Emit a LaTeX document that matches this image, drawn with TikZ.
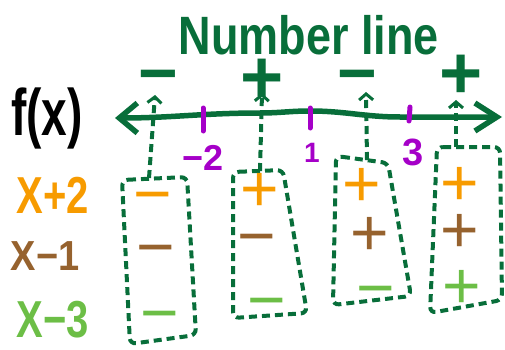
\documentclass[tikz,border=0pt]{standalone}
\usepackage{fontspec}
\setmainfont{Liberation Sans}
\usetikzlibrary{arrows.meta}
\definecolor{lineGreen}{RGB}{8,110,58}
\definecolor{signOrange}{RGB}{247,155,0}
\definecolor{signBrown}{RGB}{150,98,46}
\definecolor{signLime}{RGB}{108,190,70}
\definecolor{tickPurple}{RGB}{165,0,200}

\begin{document}
\begin{tikzpicture}[x=1pt,y=-1pt,
  lbl/.style={inner sep=0pt, anchor=center, yscale=1.3, font=\bfseries\fontsize{40}{40}\selectfont},
  % signs sit on their baseline, lowered so the glyph is centred on the point
  sgn/.style={inner sep=0pt, anchor=base, yshift=-23.1pt, font=\fontsize{66}{66}\selectfont},
  bigplus/.style={inner sep=0pt, anchor=base, yshift=-25.9pt, font=\bfseries\fontsize{74}{74}\selectfont, text=lineGreen},
  bigminus/.style={inner sep=0pt, anchor=base, yshift=-23.8pt, font=\bfseries\fontsize{68}{68}\selectfont, text=lineGreen},
  numlbl/.style={inner sep=0pt, text=tickPurple},
  box/.style={draw=lineGreen, line width=4pt, dash pattern=on 8pt off 5pt, rounded corners=6pt},
  probe/.style={draw=lineGreen, line width=4pt, dash pattern=on 8pt off 5pt,
    -{Straight Barb[length=6pt,width=14pt,line width=3pt]}},
  tick/.style={draw=tickPurple, line width=5pt, line cap=round},
]
\useasboundingbox (0,0) rectangle (505,350);

% title
\node[inner sep=0pt, text=lineGreen, yscale=1.2, font=\bfseries\fontsize{45}{45}\selectfont] (title) at (309,35) {Number line};

% signs of f(x) on each interval
\node[bigminus] (s1) at (158,73) {−};
\node[bigplus] (s2) at (262,77) {+};
\node[bigminus] (s3) at (357,73) {−};
\node[bigplus] (s4) at (461,73) {+};

% the number line
\node[inner sep=0pt, yscale=1.43, font=\bfseries\fontsize{46}{46}\selectfont] (fx) at (47,118) {f(x)};
\coordinate (axL) at (115,118);
\coordinate (axR) at (502,117);
\draw[lineGreen, line width=5.5pt, line cap=round,
  {Straight Barb[length=18pt,width=30pt]}-{Straight Barb[length=22pt,width=28pt]}]
  (axL) to[out=0,in=180] (260,113) to[out=0,in=180] (310,111)
  to[out=0,in=180] (400,117) -- (axR);

% critical points
\draw[tick] (203,108) -- (203,131);
\draw[tick] (310,108) -- (310,128);
\draw[tick] (410,107) -- (409,121);
\node[numlbl, font=\bfseries\fontsize{36}{36}\selectfont] (n1) at (203,158) {−2};
\node[numlbl, font=\bfseries\fontsize{28}{28}\selectfont] (n2) at (312,153) {1};
\node[numlbl, font=\bfseries\fontsize{38}{38}\selectfont] (n3) at (413,152) {3};

% factor labels
\node[lbl, text=signOrange] (fa) at (53,195) {X+2};
\node[lbl, text=signBrown, yscale=0.85, font=\bfseries\fontsize{38}{38}\selectfont] (fb) at (45,256) {X−1};
\node[lbl, text=signLime] (fc) at (53,320) {X−3};

% sign-chart columns
\draw[box] (122,180) -- (187,177) -- (196,335) -- (130,344) -- cycle;
\draw[box] (233,172) -- (283,170) -- (307,313) -- (233,318) -- cycle;
\draw[box] (336,156) -- (388,163) -- (411,296) -- (333,305) -- cycle;
\draw[box] (437,147) -- (500,147) -- (502,300) -- (430,313) -- cycle;

\coordinate (tA) at (149,178);
\coordinate (tB) at (260,171);
\coordinate (tC) at (367,160);
\coordinate (tD) at (456,147);
\coordinate (pA) at (155,95);
\coordinate (pB) at (262,93);
\coordinate (pC) at (366,92);
\coordinate (pD) at (456,100);
\draw[probe] (tA) -- (pA);
\draw[probe] (tB) -- (pB);
\draw[probe] (tC) -- (pC);
\draw[probe] (tD) -- (pD);

% column 1: x < -2
\node[sgn, text=signOrange] (a1) at (153,193) {−};
\node[sgn, text=signBrown] (a2) at (156,246) {−};
\node[sgn, text=signLime] (a3) at (160,312) {−};
% column 2: -2 < x < 1
\node[sgn, text=signOrange] (b1) at (260,188) {+};
\node[sgn, text=signBrown] (b2) at (257,235) {−};
\node[sgn, text=signLime] (b3) at (267,299) {−};
% column 3: 1 < x < 3
\node[sgn, text=signOrange] (c1) at (362,183) {+};
\node[sgn, text=signBrown] (c2) at (370,232) {+};
\node[sgn, text=signLime] (c3) at (376,287) {−};
% column 4: x > 3
\node[sgn, text=signOrange] (d1) at (460,182) {+};
\node[sgn, text=signBrown] (d2) at (460,229) {+};
\node[sgn, text=signLime] (d3) at (462,285) {+};
\end{tikzpicture}
\end{document}
